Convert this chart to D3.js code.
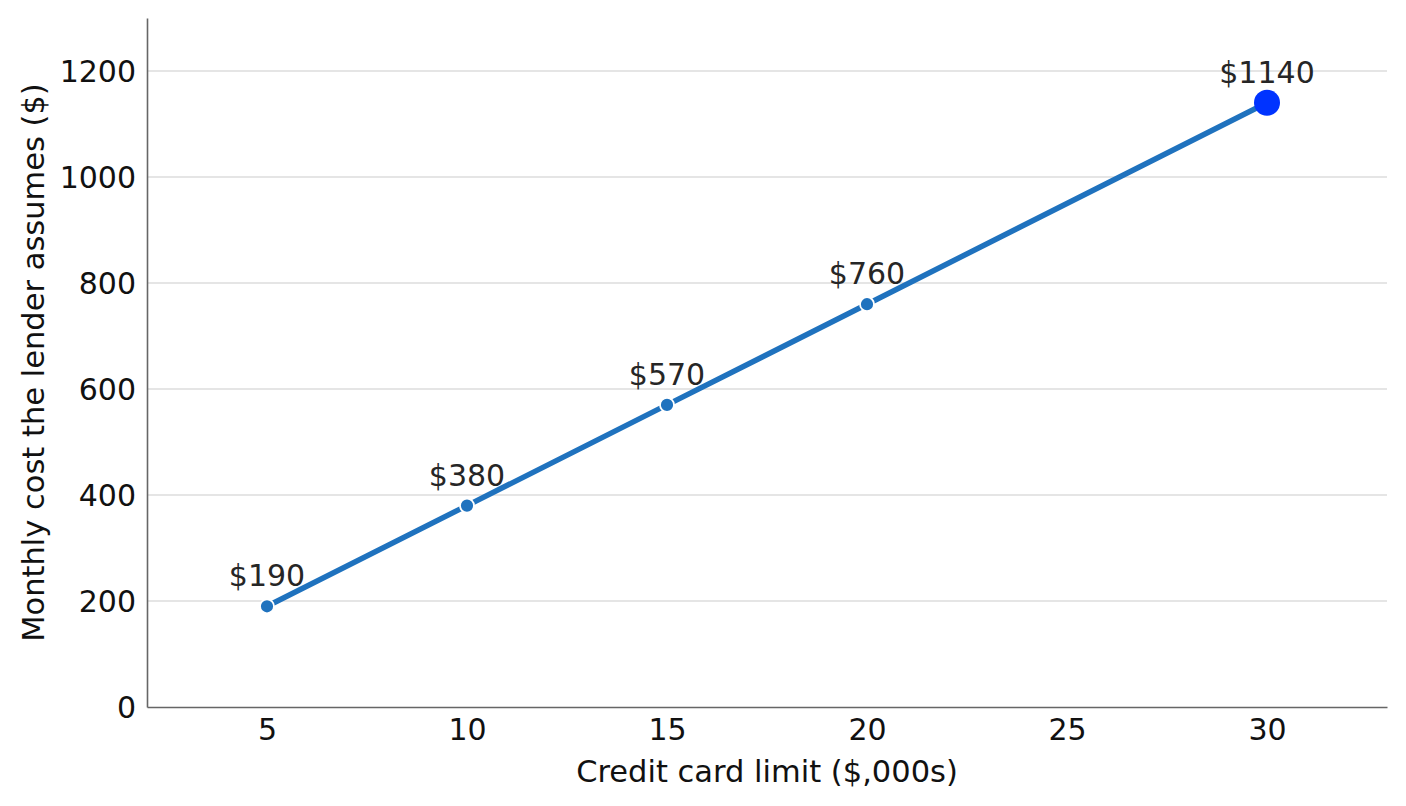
<!DOCTYPE html>
<html>
<head>
<meta charset="utf-8">
<script src="https://cdn.jsdelivr.net/npm/d3@7/dist/d3.min.js"></script>
<style>
  body { margin: 0; background: #fff; }
  svg text { font-family: "DejaVu Sans", sans-serif; }
</style>
</head>
<body>
<div id="chart"></div>
<script>
// data
var limits = [5, 10, 15, 20, 30];
var costs = [190, 380, 570, 760, 1140];
var costLabels = ['$190', '$380', '$570', '$760', '$1140'];
var xTicks = [5, 10, 15, 20, 25, 30];
var yTicks = [0, 200, 400, 600, 800, 1000, 1200];

var width = 1406, height = 806;
var margin = { top: 18, right: 19, bottom: 99, left: 147 };

var svg = d3.select('#chart').append('svg')
    .attr('width', width).attr('height', height);

var x = d3.scaleLinear().domain([2, 33]).range([margin.left, width - margin.right]);
var y = d3.scaleLinear().domain([0, 1300]).range([height - margin.bottom, margin.top]);

// horizontal grid
svg.append('g')
   .selectAll('line')
   .data(yTicks.slice(1))
   .enter()
   .append('line')
   .attr('x1', x(2)).attr('x2', x(33))
   .attr('y1', function (d) { return y(d); })
   .attr('y2', function (d) { return y(d); })
   .attr('stroke', '#dcdcdc')
   .attr('stroke-width', 1.3);

// axes, no tick marks
var xAxis = svg.append('g')
    .attr('transform', 'translate(0,' + y(0) + ')')
    .call(d3.axisBottom(x).tickValues(xTicks).tickFormat(d3.format('d')).tickSize(0).tickPadding(12));
var yAxis = svg.append('g')
    .attr('transform', 'translate(' + x(2) + ',0)')
    .call(d3.axisLeft(y).tickValues(yTicks).tickFormat(d3.format('d')).tickSize(0).tickPadding(11));

[xAxis, yAxis].forEach(function (ax) {
    ax.select('.domain').attr('stroke', '#666').attr('stroke-width', 1.6);
    ax.selectAll('text')
      .attr('font-family', '"DejaVu Sans", sans-serif')
      .attr('font-size', 30)
      .attr('fill', '#111');
});
xAxis.selectAll('text').attr('dy', '0.71em');
yAxis.selectAll('text').attr('dy', '0.36em');

// axis titles
svg.append('text')
   .attr('x', (x(2) + x(33)) / 2)
   .attr('y', 782)
   .attr('text-anchor', 'middle')
   .attr('font-size', 30.5)
   .attr('fill', '#111')
   .text('Credit card limit ($,000s)');

svg.append('text')
   .attr('transform', 'translate(44,' + ((y(0) + y(1300)) / 2) + ') rotate(-90)')
   .attr('text-anchor', 'middle')
   .attr('font-size', 30.5)
   .attr('fill', '#111')
   .text('Monthly cost the lender assumes ($)');

var points = limits.map(function (d, i) { return { x: d, y: costs[i], label: costLabels[i] }; });

var line = d3.line()
    .x(function (d) { return x(d.x); })
    .y(function (d) { return y(d.y); });

svg.append('path')
   .datum(points)
   .attr('d', line)
   .attr('fill', 'none')
   .attr('stroke', '#1f72be')
   .attr('stroke-width', 5.5);

var last = points.length - 1;

svg.selectAll('circle.pt')
   .data(points.slice(0, last))
   .enter()
   .append('circle')
   .attr('class', 'pt')
   .attr('cx', function (d) { return x(d.x); })
   .attr('cy', function (d) { return y(d.y); })
   .attr('r', 7)
   .attr('fill', '#1f72be')
   .attr('stroke', '#fff')
   .attr('stroke-width', 1.8);

// highlight the last point
svg.append('circle')
   .attr('cx', x(points[last].x))
   .attr('cy', y(points[last].y))
   .attr('r', 13)
   .attr('fill', '#0033ff');

svg.selectAll('text.lbl')
   .data(points)
   .enter()
   .append('text')
   .attr('class', 'lbl')
   .attr('x', function (d) { return x(d.x); })
   .attr('y', function (d) { return y(d.y) - 20; })
   .attr('text-anchor', 'middle')
   .attr('font-size', 30)
   .attr('fill', '#262626')
   .text(function (d) { return d.label; });
</script>
</body>
</html>
